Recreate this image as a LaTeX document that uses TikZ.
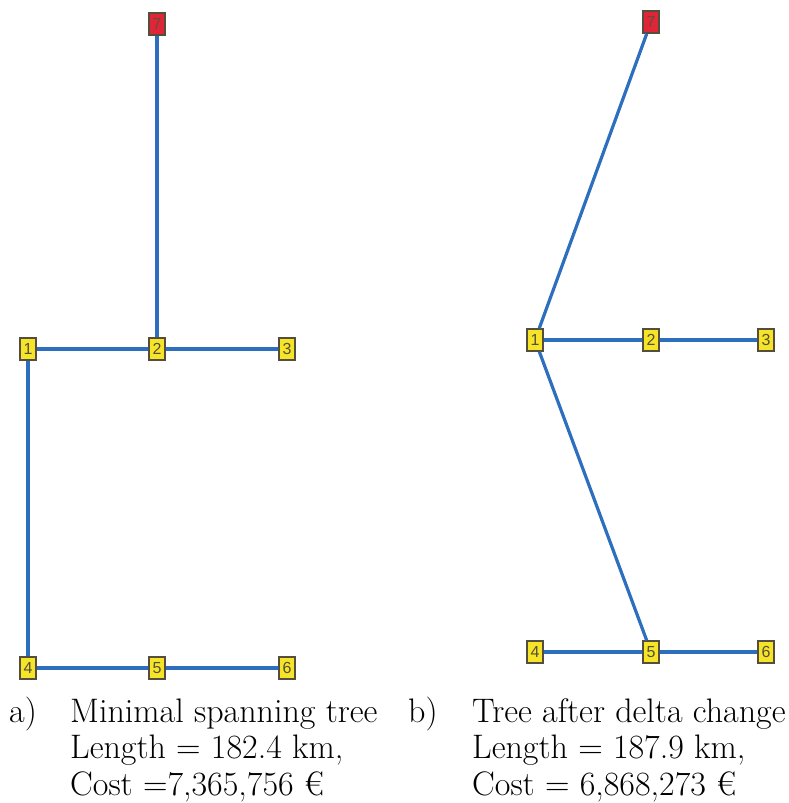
\documentclass[tikz,border=0pt]{standalone}
\usepackage{fontspec}
\usepackage{xcolor}
\usepackage{tikz}
\newfontfamily\sitefont{Liberation Sans}
\definecolor{linkblue}{RGB}{45,110,190}
\definecolor{siteyellow}{RGB}{245,228,40}
\definecolor{sitered}{RGB}{222,38,56}
\definecolor{siteframe}{RGB}{85,78,60}

\begin{document}
\begin{tikzpicture}[x=1pt,y=-1pt,
      site/.style={draw=siteframe,line width=1.4pt,fill=siteyellow,
        minimum width=16pt,minimum height=22pt,inner sep=0pt,
        font=\sitefont\fontsize{16}{16}\selectfont,text=siteframe},
      root/.style={site,fill=sitered,text=siteframe!80!sitered},
      link/.style={draw=linkblue,line width=3.2pt},
      caption/.style={anchor=base west,align=left,inner sep=0pt,
        font=\fontsize{34}{36.5}\selectfont}]
    \useasboundingbox (0,0) rectangle (788,803);
    % a) minimal spanning tree
    \node[root] (a7) at (157,24) {7};
    \node[site] (a1) at (28,349) {1};
    \node[site] (a2) at (157,349) {2};
    \node[site] (a3) at (287,349) {3};
    \node[site] (a4) at (28,668) {4};
    \node[site] (a5) at (157,668) {5};
    \node[site] (a6) at (287,668) {6};
    \draw[link] (a7) -- (a2);
    \draw[link] (a1) -- (a2);
    \draw[link] (a2) -- (a3);
    \draw[link] (a1) -- (a4);
    \draw[link] (a4) -- (a5);
    \draw[link] (a5) -- (a6);
    % b) after delta change
    \node[root] (b7) at (651,22) {7};
    \node[site] (b1) at (535,340) {1};
    \node[site] (b2) at (651,340) {2};
    \node[site] (b3) at (766,340) {3};
    \node[site] (b4) at (535,652) {4};
    \node[site] (b5) at (651,652) {5};
    \node[site] (b6) at (766,652) {6};
    \draw[link] (b1) -- (b7);
    \draw[link] (b1) -- (b2);
    \draw[link] (b2) -- (b3);
    \draw[link] (b1) -- (b5);
    \draw[link] (b4) -- (b5);
    \draw[link] (b5) -- (b6);
    % captions (multi-line nodes sit on their last baseline)
    \node[caption] (tagA) at (9,722) {a)};
    \node[caption] (capA) at (70,795)
      {Minimal spanning tree\\Length = 182.4 km,\\Cost =7,365,756 €};
    \node[caption] (tagB) at (408,722) {b)};
    \node[caption] (capB) at (472,795)
      {Tree after delta change\\Length = 187.9 km,\\Cost = 6,868,273 €};
\end{tikzpicture}
\end{document}
